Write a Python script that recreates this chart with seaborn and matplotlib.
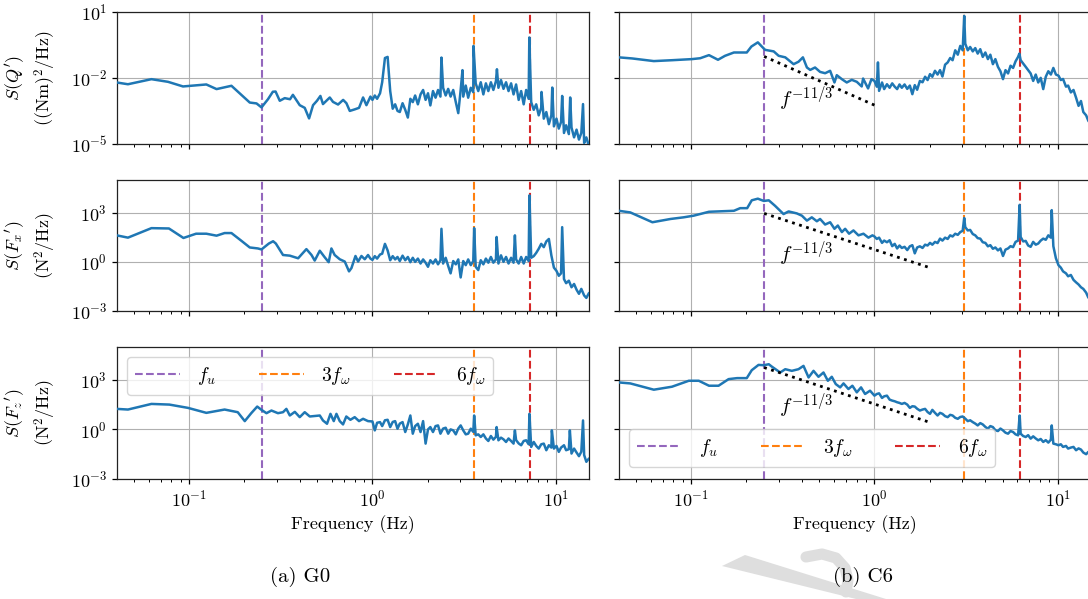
import numpy as np
import seaborn as sns
import matplotlib
matplotlib.use("Agg")
import matplotlib.pyplot as plt
from matplotlib.patches import Polygon
from matplotlib.lines import Line2D
from matplotlib.ticker import NullLocator, NullFormatter

# ---------------------------------------------------------------------------
# Power spectral densities. Frequencies in Hz, PSD stored as log10 of value.
# Each spectrum = low-frequency part (< 1 Hz) + broadband part on the common
# grid hf_freq + narrow tonal peaks.
# ---------------------------------------------------------------------------
hf_freq = [1.00, 1.03, 1.06, 1.10, 1.13, 1.17, 1.21, 1.25, 1.29, 1.33,
           1.37, 1.41, 1.46, 1.51, 1.56, 1.61, 1.66, 1.71, 1.77, 1.83,
           1.89, 1.95, 2.01, 2.07, 2.14, 2.21, 2.28, 2.35, 2.43, 2.51,
           2.59, 2.67, 2.76, 2.85, 2.94, 3.03, 3.13, 3.23, 3.33, 3.44,
           3.55, 3.66, 3.78, 3.90, 4.03, 4.16, 4.29, 4.43, 4.57, 4.72,
           4.87, 5.03, 5.19, 5.36, 5.53, 5.71, 5.89, 6.08, 6.28, 6.48,
           6.69, 6.90, 7.12, 7.35, 7.59, 7.83, 8.08, 8.34, 8.61, 8.89,
           9.18, 9.47, 9.78, 10.1, 10.4, 10.7, 11.1, 11.4, 11.8, 12.2,
           12.6, 13.0, 13.4, 13.8, 14.3, 14.7, 15.2]

# Case G0 -- torque Q'
g0_q_low_freq = [0.0402, 0.0463, 0.0622, 0.0766, 0.0925, 0.124, 0.141, 0.170, 0.189, 0.214,
                 0.233, 0.248, 0.269, 0.286, 0.296, 0.312, 0.332, 0.355, 0.368, 0.401,
                 0.427, 0.451, 0.474, 0.498, 0.520, 0.537, 0.585, 0.609, 0.649, 0.692,
                 0.721, 0.752, 0.800, 0.845, 0.889, 0.927, 0.975]
g0_q_low = [-2.21, -2.29, -2.06, -2.18, -2.39, -2.30, -2.51, -2.36, -2.71, -3.12,
            -3.16, -3.34, -2.97, -2.63, -2.62, -3.04, -2.92, -2.97, -2.77, -3.24,
            -3.36, -3.84, -3.24, -3.04, -2.82, -3.19, -2.89, -3.09, -3.21, -3.00,
            -3.15, -3.50, -3.43, -3.36, -2.89, -3.24, -2.85]
g0_q_hf = [-3.00, -2.80, -2.95, -2.70, -2.20, -1.10, -1.05, -2.60, -3.40, -3.20,
           -3.50, -3.55, -3.15, -3.45, -3.80, -2.95, -3.10, -2.80, -3.20, -2.75,
           -2.55, -3.00, -2.70, -3.25, -2.60, -2.90, -2.55, -2.85, -2.45, -2.80,
           -2.50, -2.85, -2.55, -3.10, -3.60, -2.55, -2.85, -2.35, -2.90, -2.45,
           -2.65, -2.25, -2.60, -2.20, -2.75, -2.25, -2.60, -2.20, -2.55, -2.15,
           -2.45, -2.10, -2.50, -2.20, -2.60, -2.25, -2.75, -2.30, -3.00, -2.60,
           -3.20, -2.55, -2.95, -3.10, -3.45, -3.20, -3.70, -3.35, -3.85, -3.55,
           -4.10, -3.70, -4.20, -3.85, -4.30, -4.00, -4.50, -4.15, -4.55, -4.25,
           -4.70, -4.35, -4.80, -4.50, -4.95, -4.70, -5.10]
g0_q_peak_freq = [2.38, 3.10, 3.56, 4.78, 7.18, 8.37, 9.58, 10.85, 12.0, 14.1]
g0_q_peak = [-1.08, -1.65, -0.55, -1.61, -0.17, -2.64, -2.44, -2.82, -2.89, -3.19]

# Case G0 -- streamwise force Fx'
g0_fx_low_freq = [0.0402, 0.0463, 0.0622, 0.0775, 0.093, 0.109, 0.124, 0.141, 0.156, 0.170,
                  0.193, 0.214, 0.237, 0.248, 0.272, 0.287, 0.297, 0.325, 0.354, 0.393,
                  0.436, 0.465, 0.484, 0.516, 0.549, 0.577, 0.597, 0.622, 0.663, 0.706,
                  0.745, 0.768, 0.808, 0.835, 0.871, 0.908, 0.946, 0.975]
g0_fx_low = [1.62, 1.48, 2.06, 2.04, 1.46, 1.72, 1.72, 1.60, 1.76, 1.76,
             1.28, 0.88, 0.82, 0.76, 1.12, 1.26, 1.12, 0.42, 0.38, 0.22,
             0.78, 0.42, 0.08, 0.68, 0.28, -0.02, 0.82, 0.42, 0.16, 0.02,
             -0.58, -0.38, 0.36, 0.02, 0.36, 0.16, 0.42, 0.20]
g0_fx_hf = [0.12, 0.35, 0.20, 0.45, 0.50, 1.10, 0.70, 0.10, 0.35, 0.15,
            0.30, 0.05, 0.38, 0.10, 0.30, -0.02, 0.25, 0.00, 0.20, -0.10,
            0.15, -0.05, -0.30, 0.10, -0.10, 0.15, -0.15, 0.10, -0.10, 0.25,
            -0.25, -0.70, 0.05, -0.15, 0.15, -0.95, 0.05, -0.20, 0.15, -0.20,
            0.05, -0.30, -0.50, 0.10, -0.15, 0.20, -0.05, 0.30, -0.05, 0.15,
            -0.10, 0.40, 0.00, 0.30, -0.10, 0.25, -0.05, 0.15, -0.10, 0.30,
            -0.10, 0.30, 0.05, 0.25, 0.35, 0.55, 0.80, 1.10, 0.90, 1.25,
            1.40, 0.40, -0.35, -0.55, -0.85, -0.70, -1.05, -1.30, -1.15, -1.55,
            -1.35, -1.70, -1.95, -1.65, -2.05, -2.20, -1.90]
g0_fx_peak_freq = [2.38, 3.59, 4.76, 5.99, 7.19, 10.85]
g0_fx_peak = [2.02, 2.06, 1.52, 1.62, 4.06, 2.12]

# Case G0 -- vertical force Fz'
g0_fz_low_freq = [0.0402, 0.0463, 0.0622, 0.0779, 0.0985, 0.124, 0.156, 0.184, 0.201, 0.218,
                  0.235, 0.248, 0.264, 0.281, 0.305, 0.325, 0.339, 0.354, 0.377, 0.401,
                  0.427, 0.455, 0.516, 0.537, 0.565, 0.590, 0.615, 0.636, 0.663, 0.691,
                  0.720, 0.758, 0.800, 0.845, 0.889, 0.946]
g0_fz_low = [1.24, 1.20, 1.54, 1.50, 1.30, 1.00, 1.20, 1.04, 0.50, 0.98,
             1.38, 1.18, 0.98, 1.14, 0.98, 1.04, 1.24, 0.84, 1.06, 0.74,
             1.04, 0.78, 0.84, 0.54, 0.34, 0.94, 0.50, 0.94, 0.50, 0.30,
             0.78, 0.58, 0.74, 0.50, 0.64, 0.50]
g0_fz_hf = [0.48, -0.06, 0.40, 0.44, 0.20, 0.55, 0.58, 0.14, 0.45, 0.50,
            0.04, 0.35, 0.44, -0.16, 0.30, 0.84, -0.26, 0.20, 0.34, -0.16,
            0.50, -0.86, 0.00, 0.14, -0.16, 0.20, 0.24, -0.26, 0.05, 0.10,
            -0.26, 0.00, -0.06, -0.30, 0.05, 0.24, -0.06, -0.30, -0.26, 0.04,
            -0.15, -0.36, -0.30, -0.46, -0.30, -0.55, -0.70, -0.40, -0.62, -0.45,
            -0.66, -0.50, -0.60, -0.76, -0.55, -0.70, -0.86, -0.65, -0.85, -0.96,
            -0.70, -0.66, -0.90, -1.06, -0.76, -1.00, -1.16, -0.90, -0.86, -1.26,
            -0.96, -1.10, -1.16, -1.00, -1.36, -1.10, -0.96, -1.26, -1.20, -1.46,
            -1.16, -1.40, -1.62, -1.35, -1.55, -1.96, -1.76]
g0_fz_peak_freq = [3.59, 4.76, 5.99, 7.19, 9.53, 11.95, 14.1]
g0_fz_peak = [0.84, 0.14, -0.06, 0.94, -0.06, -0.06, 0.54]

# Case C6 -- torque Q'
c6_q_low_freq = [0.0402, 0.0476, 0.0625, 0.0785, 0.101, 0.112, 0.125, 0.140, 0.153, 0.171,
                 0.201, 0.213, 0.231, 0.241, 0.253, 0.282, 0.300, 0.326, 0.362, 0.385,
                 0.407, 0.428, 0.446, 0.474, 0.505, 0.538, 0.573, 0.605, 0.623, 0.664,
                 0.706, 0.752, 0.801, 0.852, 0.867, 0.923, 0.963]
c6_q_low = [-1.07, -1.12, -1.24, -1.20, -1.15, -1.11, -0.97, -1.18, -1.00, -0.85,
            -0.85, -0.58, -0.39, -0.55, -0.73, -0.80, -1.00, -1.07, -1.38, -1.27,
            -1.07, -1.53, -1.64, -1.53, -1.73, -1.79, -1.68, -2.21, -1.88, -2.06,
            -2.21, -2.09, -2.18, -2.39, -2.03, -2.48, -2.06]
c6_q_hf = [-2.14, -2.40, -2.59, -2.21, -2.51, -2.29, -2.45, -2.25, -2.40, -2.51,
           -2.30, -2.45, -2.30, -2.50, -2.35, -2.74, -2.33, -2.54, -2.14, -2.20,
           -1.95, -2.10, -1.83, -1.95, -1.68, -1.85, -1.65, -1.94, -1.40, -1.30,
           -1.10, -1.20, -0.75, -0.95, -0.55, -0.75, -0.45, -0.75, -0.60, -0.80,
           -0.65, -0.90, -0.70, -1.05, -0.85, -1.15, -0.95, -1.38, -1.15, -1.50,
           -1.70, -2.06, -1.65, -1.80, -1.45, -1.55, -1.25, -1.05, -1.20, -1.35,
           -1.50, -1.65, -1.80, -2.14, -1.85, -2.21, -2.00, -2.51, -1.95, -1.70,
           -1.85, -1.55, -1.85, -1.90, -2.10, -2.05, -2.40, -2.35, -2.66, -2.55,
           -2.90, -3.27, -3.05, -3.55, -3.70, -3.95, -4.10]
c6_q_peak_freq = [1.045, 3.09, 6.18]
c6_q_peak = [-1.30, 0.81, -0.90]

# Case C6 -- streamwise force Fx'
c6_fx_low_freq = [0.0402, 0.0465, 0.0614, 0.0771, 0.0908, 0.103, 0.125, 0.171, 0.185, 0.202,
                  0.214, 0.231, 0.249, 0.265, 0.287, 0.319, 0.340, 0.377, 0.402, 0.428,
                  0.455, 0.485, 0.505, 0.538, 0.573, 0.605, 0.631, 0.664, 0.692, 0.727,
                  0.768, 0.818, 0.871, 0.927, 0.975]
c6_fx_low = [3.12, 3.02, 2.42, 2.62, 2.72, 2.82, 3.06, 3.12, 3.28, 3.28,
             3.76, 3.86, 3.72, 3.76, 3.42, 2.92, 3.08, 2.96, 2.82, 2.52,
             2.72, 2.48, 2.62, 2.28, 2.42, 2.02, 2.22, 1.82, 2.02, 1.72,
             1.92, 1.62, 1.72, 1.48, 1.62]
c6_fx_hf = [1.55, 1.40, 1.48, 1.16, 1.30, 1.20, 1.32, 0.96, 1.10, 0.82,
            1.00, 0.85, 0.92, 0.72, 0.95, 1.02, 0.52, 0.88, 0.95, 0.85,
            1.05, 1.00, 1.16, 1.05, 1.22, 1.15, 1.42, 1.30, 1.48, 1.40,
            1.62, 1.55, 1.72, 1.65, 1.82, 1.90, 2.12, 1.92, 1.95, 1.70,
            1.62, 1.45, 1.42, 1.20, 1.16, 0.95, 1.02, 0.80, 0.88, 0.70,
            0.82, 0.36, 0.75, 0.82, 0.96, 0.90, 1.22, 1.30, 1.52, 1.25,
            1.28, 1.00, 0.92, 1.22, 1.05, 1.12, 1.30, 1.42, 1.35, 1.62,
            1.48, 0.96, 0.22, -0.20, -0.35, -0.58, -0.70, -0.88, -0.80, -1.10,
            -1.25, -1.38, -1.55, -1.65, -1.88, -2.18, -2.30]
c6_fx_peak_freq = [3.09, 6.20, 9.28]
c6_fx_peak = [2.68, 3.48, 3.16]

# Case C6 -- vertical force Fz'
c6_fz_low_freq = [0.0402, 0.0465, 0.0625, 0.0785, 0.097, 0.110, 0.125, 0.141, 0.160, 0.178,
                  0.201, 0.214, 0.233, 0.249, 0.265, 0.275, 0.306, 0.326, 0.354, 0.385,
                  0.410, 0.437, 0.465, 0.495, 0.527, 0.557, 0.585, 0.615, 0.650, 0.678,
                  0.721, 0.758, 0.801, 0.845, 0.889, 0.946]
c6_fz_low = [2.84, 2.78, 2.40, 2.58, 2.94, 2.94, 2.64, 2.64, 3.04, 3.10,
             3.10, 3.58, 3.90, 3.88, 3.94, 3.80, 3.44, 3.64, 3.54, 3.64,
             3.84, 3.14, 3.54, 3.18, 3.44, 2.94, 3.18, 2.74, 2.54, 2.78,
             2.44, 2.64, 2.24, 2.54, 2.14, 2.34]
c6_fz_hf = [2.04, 2.14, 2.18, 1.90, 2.00, 2.04, 1.80, 1.74, 1.70, 1.64,
            1.60, 1.54, 1.60, 1.50, 1.30, 1.40, 1.38, 1.25, 1.14, 1.20,
            1.24, 1.05, 0.94, 1.18, 1.00, 0.84, 1.00, 0.94, 0.80, 0.74,
            0.88, 0.84, 0.70, 0.64, 0.75, 0.78, 0.65, 0.50, 0.55, 0.44,
            0.35, 0.24, 0.38, 0.30, 0.15, 0.04, 0.20, 0.14, -0.05, -0.10,
            0.05, -0.06, -0.20, -0.26, -0.10, -0.16, -0.30, -0.36, -0.26, -0.40,
            -0.46, -0.35, -0.56, -0.42, -0.55, -0.66, -0.58, -0.76, -0.65, -0.80,
            -0.62, -0.86, -0.90, -0.96, -0.90, -1.06, -1.00, -1.16, -1.10, -1.06,
            -1.26, -1.15, -1.22, -1.40, -1.50, -1.36, -1.50]
c6_fz_peak_freq = [6.20, 9.28]
c6_fz_peak = [0.84, 0.24]

# Characteristic frequencies (Hz): f_u, 3 f_omega, 6 f_omega
g0_marks = [0.25, 3.6, 7.2]
c6_marks = [0.25, 3.1, 6.2]
mark_labels = [r"$f_u$", r"$3f_\omega$", r"$6f_\omega$"]
mark_colors = ["#9467bd", "#ff7f0e", "#d62728"]

# -11/3 reference slopes for C6: start/end frequency and log10 level at start
slope_f_start = 0.25
slope_f_end = [1.0, 2.0, 2.0]
slope_log_start = [-1.03, 2.96, 3.74]
slope_label_f = 0.30
slope_label_log = [-2.92, 0.51, 1.44]

row_labels = ["$S(Q')$\n$((\\mathrm{Nm})^2/\\mathrm{Hz})$",
              "$S({F_x}')$\n$(\\mathrm{N}^2/\\mathrm{Hz})$",
              "$S({F_z}')$\n$(\\mathrm{N}^2/\\mathrm{Hz})$"]
row_yticks = [[1e-5, 1e-2, 1e1], [1e-3, 1e0, 1e3], [1e-3, 1e0, 1e3]]
row_ylims = [(1e-5, 1e1), (1e-3, 1e5), (1e-3, 1e5)]
x_limits = (0.0402, 15.2)
captions = ["(a) G0", "(b) C6"]


def spectrum(low_f, low_v, hf_v, peak_f, peak_v):
    """Join the three parts of a spectrum and sort by frequency."""
    f = np.concatenate([low_f, hf_freq, peak_f])
    v = np.concatenate([low_v, hf_v, peak_v])
    order = np.argsort(f)
    return f[order], 10.0 ** v[order]


series = [
    [spectrum(g0_q_low_freq, g0_q_low, g0_q_hf, g0_q_peak_freq, g0_q_peak),
     spectrum(g0_fx_low_freq, g0_fx_low, g0_fx_hf, g0_fx_peak_freq, g0_fx_peak),
     spectrum(g0_fz_low_freq, g0_fz_low, g0_fz_hf, g0_fz_peak_freq, g0_fz_peak)],
    [spectrum(c6_q_low_freq, c6_q_low, c6_q_hf, c6_q_peak_freq, c6_q_peak),
     spectrum(c6_fx_low_freq, c6_fx_low, c6_fx_hf, c6_fx_peak_freq, c6_fx_peak),
     spectrum(c6_fz_low_freq, c6_fz_low, c6_fz_hf, c6_fz_peak_freq, c6_fz_peak)],
]
marks = [g0_marks, c6_marks]

# ---------------------------------------------------------------------------
sns.set_theme(style="ticks")
plt.rcParams.update({
    "font.family": ["cmr10", "DejaVu Serif"],
    "mathtext.fontset": "cm",
    "axes.unicode_minus": False,
    "axes.formatter.use_mathtext": True,
    "text.color": "black",
    "axes.labelcolor": "black",
    "axes.edgecolor": "#222222",
    "axes.linewidth": 0.9,
    "xtick.color": "black",
    "ytick.color": "black",
    "xtick.direction": "out",
    "ytick.direction": "out",
    "xtick.major.size": 3.5,
    "ytick.major.size": 3.5,
    "xtick.minor.size": 2.0,
    "xtick.major.width": 0.9,
    "ytick.major.width": 0.9,
    "xtick.minor.width": 0.7,
    "xtick.labelsize": 13,
    "ytick.labelsize": 13,
    "axes.labelsize": 13,
    "grid.color": "#b0b0b0",
    "grid.linewidth": 0.8,
    "legend.frameon": True,
    "legend.framealpha": 0.8,
    "legend.edgecolor": "0.8",
    "legend.fancybox": True,
})

W, H = 1088, 599
fig = plt.figure(figsize=(W / 100, H / 100), dpi=100)


def px(x, y):
    """Pixel position (from the top-left corner) to figure fraction."""
    return x / W, 1 - y / H


# faint grey stamp printed behind the second caption
fig.patches.append(Polygon([px(722, 566), px(745, 555), px(886, 599), px(856, 599)],
                           closed=True, transform=fig.transFigure,
                           facecolor="#dedede", edgecolor="none", zorder=0))
hook_x = [806, 822, 836, 845, 848, 846]
hook_y = [557, 554, 558, 568, 580, 592]
fig.lines.append(Line2D([px(x, 0)[0] for x in hook_x], [px(0, y)[1] for y in hook_y],
                        transform=fig.transFigure, color="#dedede", linewidth=8,
                        solid_capstyle="round", zorder=0))

col_left = [116.7, 618.7]
ax_w = 472.3
row_span = [(11.7, 144.0), (180.0, 311.0), (346.7, 479.0)]
blue = "#1f77b4"

axes = [[None] * 3 for _ in range(2)]
for c in range(2):
    for r in range(3):
        top, bot = row_span[r]
        ax = fig.add_axes([col_left[c] / W, 1 - bot / H, ax_w / W, (bot - top) / H])
        axes[c][r] = ax
        ax.set_xscale("log")
        ax.set_yscale("log")
        ax.set_axisbelow(True)

        freq, psd = series[c][r]
        sns.lineplot(x=freq, y=psd, ax=ax, color=blue, linewidth=1.8,
                     estimator=None, sort=False, zorder=3)

        for f, lab, col in zip(marks[c], mark_labels, mark_colors):
            ax.axvline(f, color=col, linestyle="--", linewidth=1.5, label=lab, zorder=2)

        if c == 1:
            fs = np.array([slope_f_start, slope_f_end[r]])
            level = 10.0 ** slope_log_start[r] * (fs / slope_f_start) ** (-11.0 / 3.0)
            ax.plot(fs, level, color="black", linestyle=":", linewidth=2.0, zorder=4)
            ax.text(slope_label_f, 10.0 ** slope_label_log[r], r"$f^{-11/3}$",
                    fontsize=15, ha="left", va="center", zorder=5)

        ax.set_xlim(*x_limits)
        ax.set_ylim(*row_ylims[r])
        ax.set_yticks(row_yticks[r])
        ax.yaxis.set_minor_locator(NullLocator())
        ax.xaxis.set_minor_formatter(NullFormatter())
        ax.grid(True, which="major", axis="both")
        for sp in ax.spines.values():
            sp.set_visible(True)

        if r < 2:
            ax.tick_params(axis="x", which="both", labelbottom=False)
        else:
            ax.set_xlabel("Frequency (Hz)", fontsize=13)
        if c == 1:
            ax.tick_params(axis="y", labelleft=False)
        else:
            ax.set_ylabel(row_labels[r], fontsize=13, linespacing=1.3)
            ax.yaxis.set_label_coords(-0.124, 0.5)

leg_kw = dict(ncol=3, fontsize=14, handlelength=2.3, handletextpad=0.9,
              columnspacing=2.2, borderaxespad=0.0)
axes[0][2].legend(loc="upper left", bbox_to_anchor=(0.0224, 0.922), **leg_kw)
axes[1][2].legend(loc="lower left", bbox_to_anchor=(0.0218, 0.091), **leg_kw)

fig.text(300 / W, 1 - 577 / H, captions[0], ha="center", va="center", fontsize=15)
fig.text(863 / W, 1 - 577 / H, captions[1], ha="center", va="center", fontsize=15)

fig.savefig("out.png", dpi=100)
